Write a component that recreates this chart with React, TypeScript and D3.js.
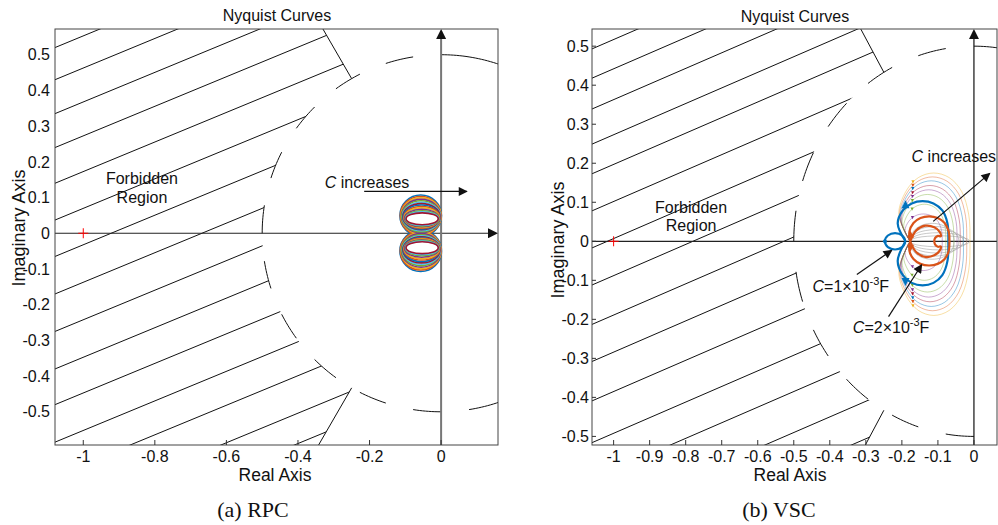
import React from 'react';
import * as d3 from 'd3';

const W = 998;
const H = 525;
const SANS = '"Liberation Sans", Arial, sans-serif';
const SERIF = '"Liberation Serif", "Times New Roman", serif';
const MATLAB = ['#0072BD', '#D95319', '#EDB120', '#7E2F8E', '#77AC30', '#4DBEEE', '#A2142F'];

// ---------- forbidden region (|Z|>0.5, phase within 120..240 deg) ----------
const regionRadius = 0.5;
const regionAngles = [120, 240];
const dashArcs: [number, number][] = [
  [63, 90], [99, 108], [117, 126], [135, 144], [153, 162], [171, 180],
  [189, 198], [207, 216], [225, 234], [243, 252], [261, 270], [279, 297],
];

// ---------- panel (a) RPC ----------
const aXDomain = [-1.079, 0.159];
const aYDomain = [-0.593, 0.572];
const aXTicks = [-1, -0.8, -0.6, -0.4, -0.2, 0];
const aXTickLabels = ['-1', '-0.8', '-0.6', '-0.4', '-0.2', '0'];
const aYTicks = [0.5, 0.4, 0.3, 0.2, 0.1, 0, -0.1, -0.2, -0.3, -0.4, -0.5];
const aYTickLabels = ['0.5', '0.4', '0.3', '0.2', '0.1', '0', '-0.1', '-0.2', '-0.3', '-0.4', '-0.5'];
const aHatchStarts = [0.52, 0.43, 0.335, 0.24, 0.14, 0.037, -0.065, -0.17, -0.275, -0.38, -0.48, -0.585, -0.68, -0.785, -0.87];
const aHatchSlope = 0.414;

// RPC Nyquist loops (upper lobe; lower lobe mirrored)
const rpcCx = [-0.057, -0.057, -0.056, -0.056, -0.056, -0.055, -0.055, -0.055, -0.054, -0.054, -0.054, -0.053, -0.053, -0.053];
const rpcRx = [0.058, 0.057, 0.056, 0.055, 0.054, 0.053, 0.052, 0.051, 0.05, 0.049, 0.048, 0.047, 0.046, 0.045];
const rpcTop = [0.107, 0.103, 0.099, 0.095, 0.091, 0.087, 0.083, 0.079, 0.075, 0.071, 0.067, 0.063, 0.06, 0.057];
const rpcBottom = [-0.008, -0.005, -0.002, 0.001, 0.004, 0.007, 0.01, 0.012, 0.014, 0.016, 0.018, 0.02, 0.022, 0.024];

// ---------- panel (b) VSC ----------
const bXDomain = [-1.06, 0.064];
const bYDomain = [-0.522, 0.544];
const bXTicks = [-1, -0.9, -0.8, -0.7, -0.6, -0.5, -0.4, -0.3, -0.2, -0.1, 0];
const bXTickLabels = ['-1', '-0.9', '-0.8', '-0.7', '-0.6', '-0.5', '-0.4', '-0.3', '-0.2', '-0.1', '0'];
const bYTicks = [0.5, 0.4, 0.3, 0.2, 0.1, 0, -0.1, -0.2, -0.3, -0.4, -0.5];
const bYTickLabels = ['0.5', '0.4', '0.3', '0.2', '0.1', '0', '-0.1', '-0.2', '-0.3', '-0.4', '-0.5'];
const bHatchStarts = [0.493, 0.418, 0.339, 0.249, 0.173, 0.078, -0.017, -0.112, -0.213, -0.308, -0.409, -0.516, -0.609, -0.714, -0.81];
const bHatchSlope = 0.4;

// thin curves (C increases)
const vscThinLeft = [-0.212, -0.21, -0.208, -0.206, -0.204, -0.202, -0.197, -0.193];
const vscThinRight = [-0.011, -0.02, -0.029, -0.038, -0.047, -0.056, -0.078, -0.088];
const vscThinTop = [0.175, 0.165, 0.155, 0.143, 0.132, 0.12, 0.095, 0.07];
const vscThinBot = [0.19, 0.178, 0.167, 0.155, 0.143, 0.13, 0.1, 0.075];
const vscThinColor = ['#EDB120', '#D95319', '#0072BD', '#A2142F', '#7E2F8E', '#77AC30', '#77AC30', '#7E2F8E'];
const vscCusp = -0.177;

// grey lens curves
const vscGrayRight = [-0.012, -0.02, -0.03, -0.042, -0.055];
const vscGrayTop = [0.014, 0.022, 0.03, 0.038, 0.046];

// thick C=1e-3 (blue)
const blueLoop = { xc: -0.19, xl: -0.214, xr: -0.071, top: 0.103, bot: 0.113 };
const blueSmall = { cx: -0.219, rx: 0.028, ry: 0.021 };
// thick C=2e-3 (orange)
const orangeLoop = { xc: -0.177, xl: -0.181, xr: -0.068, top: 0.064, bot: 0.062 };
const orangeInnerX = [-0.177, -0.16, -0.135, -0.11, -0.095, -0.092, -0.1, -0.108, -0.11, -0.108, -0.1, -0.092, -0.095, -0.11, -0.135, -0.16, -0.177];
const orangeInnerY = [0, 0.028, 0.04, 0.036, 0.024, 0.013, 0.014, 0.008, 0, -0.008, -0.014, -0.013, -0.024, -0.036, -0.04, -0.028, 0];

const ovalAngles = [165, 140, 115, 90, 65, 40, 15, 0];
function ovalPts(xc: number, xl: number, xr: number, top: number, bot: number, p: number): [number, number][] {
  const xm = (xl + xr) / 2;
  const a = (xr - xl) / 2;
  const up: [number, number][] = [[xc, 0]];
  ovalAngles.forEach((t) => {
    const r = (t * Math.PI) / 180;
    up.push([xm + a * Math.cos(r), top * Math.pow(Math.sin(r), p)]);
  });
  const lo = up.slice(0, -1).reverse().map(([px, py]) => [px, (-py * bot) / top] as [number, number]);
  return up.concat(lo);
}
function ovalAt(xl: number, xr: number, top: number, deg: number, p: number): [number, number] {
  const r = (deg * Math.PI) / 180;
  return [(xl + xr) / 2 + ((xr - xl) / 2) * Math.cos(r), top * Math.pow(Math.sin(r), p)];
}

const pol = (r: number, a: number): [number, number] => [r * Math.cos((a * Math.PI) / 180), r * Math.sin((a * Math.PI) / 180)];

type Scale = d3.ScaleLinear<number, number>;

function Panel(props: {
  id: string; box: { l: number; t: number; r: number; b: number };
  xDomain: number[]; yDomain: number[];
  xTicks: number[]; xLabels: string[]; yTicks: number[]; yLabels: string[];
  yTickMarks: boolean;
  hatchStarts: number[]; hatchSlope: number;
  titleX: number; titleY: number; xlabX: number; ylabX: number; ylabY: number;
  vAxisColor: string; vAxisWidth: number; hArrow: boolean;
  children: (x: Scale, y: Scale) => React.ReactNode;
}) {
  const { id, box } = props;
  const x = d3.scaleLinear().domain(props.xDomain).range([box.l, box.r]);
  const y = d3.scaleLinear().domain(props.yDomain).range([box.b, box.t]);
  const line = d3.line<[number, number]>().x((d) => x(d[0])).y((d) => y(d[1]));

  const regionPts: [number, number][] = [pol(regionRadius, regionAngles[0]), pol(4, regionAngles[0]), pol(4, 180), pol(4, regionAngles[1]), pol(regionRadius, regionAngles[1])];
  for (let a = regionAngles[1]; a >= regionAngles[0]; a -= 2) regionPts.push(pol(regionRadius, a));
  const regionD = line(regionPts) + 'Z';

  const x0 = props.xDomain[0];
  return (
    <g>
      <defs>
        <clipPath id={`plot-${id}`}>
          <rect x={box.l} y={box.t} width={box.r - box.l} height={box.b - box.t} />
        </clipPath>
        <clipPath id={`reg-${id}`}>
          <path d={regionD} />
        </clipPath>
      </defs>
      <g clipPath={`url(#plot-${id})`}>
        <g clipPath={`url(#reg-${id})`}>
          {props.hatchStarts.map((s, i) => (
            <line key={i} x1={x(x0)} y1={y(s)} x2={x(x0 + 2)} y2={y(s + props.hatchSlope * 2)} stroke="#111" strokeWidth={1} />
          ))}
        </g>
        {dashArcs.map(([a0, a1], i) => {
          const pts: [number, number][] = [];
          for (let a = a0; a <= a1; a += 1) pts.push(pol(regionRadius, a));
          return <path key={i} d={line(pts) || ''} fill="none" stroke="#111" strokeWidth={1} />;
        })}
        {regionAngles.map((a, i) => (
          <path key={'r' + i} d={line([pol(regionRadius, a), pol(4, a)]) || ''} stroke="#111" strokeWidth={1} />
        ))}
        {/* axes through origin */}
        <line x1={box.l} x2={props.hArrow ? box.r - 2 : box.r + 5} y1={y(0)} y2={y(0)} stroke="#222" strokeWidth={1.2} markerEnd={props.hArrow ? 'url(#axArrow)' : undefined} />
        <line x1={x(0)} x2={x(0)} y1={box.b} y2={box.t + 2} stroke={props.vAxisColor} strokeWidth={props.vAxisWidth} markerEnd="url(#axArrow)" />
        {/* critical point */}
        <path d={`M${x(-1) - 5},${y(0)}H${x(-1) + 5}M${x(-1)},${y(0) - 5}V${y(0) + 5}`} stroke="#ff0000" strokeWidth={1} />
        {props.children(x, y)}
      </g>
      {/* frame */}
      <rect x={box.l} y={box.t} width={box.r - box.l} height={box.b - box.t} fill="none" stroke="#444" strokeWidth={1} />
      {/* ticks */}
      {props.xTicks.map((t, i) => (
        <g key={'xt' + i}>
          <line x1={x(t)} x2={x(t)} y1={box.b} y2={box.b - 5} stroke="#333" />
          <text x={x(t)} y={box.b + 17} textAnchor="middle" fontSize={16} fontFamily={SANS} fill="#111">{props.xLabels[i]}</text>
        </g>
      ))}
      {props.yTicks.map((t, i) => (
        <g key={'yt' + i}>
          {props.yTickMarks && <line x1={box.l} x2={box.l + 4} y1={y(t)} y2={y(t)} stroke="#333" />}
          <text x={box.l - (props.yTickMarks ? 3 : 5)} y={y(t) + 5.7} textAnchor="end" fontSize={16} fontFamily={SANS} fill="#111">{props.yLabels[i]}</text>
        </g>
      ))}
      <text x={props.titleX} y={props.titleY} textAnchor="middle" fontSize={16} fontFamily={SANS} fill="#111">Nyquist Curves</text>
      <text x={props.xlabX} y={box.b + 36} textAnchor="middle" fontSize={17.5} fontFamily={SANS} fill="#111">Real Axis</text>
      <text transform={`translate(${props.ylabX},${props.ylabY}) rotate(-90)`} textAnchor="middle" fontSize={18} fontFamily={SANS} fill="#111">Imaginary Axis</text>
    </g>
  );
}

function Arrow({ x1, y1, x2, y2 }: { x1: number; y1: number; x2: number; y2: number }) {
  return <line x1={x1} y1={y1} x2={x2} y2={y2} stroke="#111" strokeWidth={1.2} markerEnd="url(#annArrow)" />;
}

export default function App() {
  const cat = d3.line<[number, number]>().curve(d3.curveCatmullRom.alpha(0.5));
  const tri = (px: number, py: number, up: boolean, s: number) =>
    up ? `M${px - s},${py + s}L${px + s},${py + s}L${px},${py - s}Z` : `M${px - s},${py - s}L${px + s},${py - s}L${px},${py + s}Z`;

  return (
    <svg width={W} height={H} style={{ position: 'absolute', left: 0, top: 0, background: '#fff' }}>
      <defs>
        <marker id="axArrow" viewBox="0 0 10 10" refX="8" refY="5" markerWidth="10" markerHeight="10" markerUnits="userSpaceOnUse" orient="auto">
          <path d="M0,0L10,5L0,10Z" fill="#111" />
        </marker>
        <marker id="annArrow" viewBox="0 0 10 10" refX="9" refY="5" markerWidth="11" markerHeight="9" markerUnits="userSpaceOnUse" orient="auto">
          <path d="M0,0L10,5L0,10Z" fill="#111" />
        </marker>
      </defs>
      <rect x={0} y={0} width={W} height={H} fill="#fff" />

      <Panel id="a" box={{ l: 55, t: 29, r: 498, b: 445 }} xDomain={aXDomain} yDomain={aYDomain}
        xTicks={aXTicks} xLabels={aXTickLabels} yTicks={aYTicks} yLabels={aYTickLabels} yTickMarks={false}
        hatchStarts={aHatchStarts} hatchSlope={aHatchSlope} titleX={277} titleY={21} xlabX={275} ylabX={25} ylabY={228}
        vAxisColor="#777" vAxisWidth={2} hArrow={true}>
        {(x, y) => (
          <g>
            {rpcCx.map((cx, i) => {
              const cy = (rpcTop[i] + rpcBottom[i]) / 2;
              const ry = (rpcTop[i] - rpcBottom[i]) / 2;
              const col = MATLAB[i % MATLAB.length];
              const sx = x(cx + rpcRx[i]) - x(cx);
              const sy = y(0) - y(ry);
              return (
                <g key={i}>
                  <ellipse cx={x(cx)} cy={y(cy)} rx={sx} ry={sy} fill="none" stroke={col} strokeWidth={1.6} />
                  <ellipse cx={x(cx)} cy={y(-cy)} rx={sx} ry={sy} fill="none" stroke={col} strokeWidth={1.6} />
                </g>
              );
            })}
            <text x={x(-0.325)} y={y(0.127)} fontSize={16} fontFamily={SANS} fill="#111"><tspan fontStyle="italic">C</tspan> increases</text>
            <Arrow x1={x(-0.215)} y1={y(0.117)} x2={x(0.072)} y2={y(0.117)} />
            <text x={x(-0.836)} y={y(0.137)} textAnchor="middle" fontSize={16} fontFamily={SANS} fill="#111">Forbidden</text>
            <text x={x(-0.836)} y={y(0.0835)} textAnchor="middle" fontSize={16} fontFamily={SANS} fill="#111">Region</text>
          </g>
        )}
      </Panel>

      <Panel id="b" box={{ l: 592, t: 29, r: 997, b: 445 }} xDomain={bXDomain} yDomain={bYDomain}
        xTicks={bXTicks} xLabels={bXTickLabels} yTicks={bYTicks} yLabels={bYTickLabels} yTickMarks={true}
        hatchStarts={bHatchStarts} hatchSlope={bHatchSlope} titleX={795} titleY={22} xlabX={790} ylabX={564} ylabY={240}
        vAxisColor="#111" vAxisWidth={1.2} hArrow={false}>
        {(x, y) => {
          const toPx = (pts: [number, number][]) => pts.map(([a, b]) => [x(a), y(b)] as [number, number]);
          return (
            <g>
              {vscThinLeft.map((xl, i) => {
                const pts = ovalPts(vscCusp, xl, vscThinRight[i], vscThinTop[i], vscThinBot[i], 0.7);
                const m = ovalAt(xl, vscThinRight[i], vscThinTop[i], 125, 0.7);
                const mb = ovalAt(xl, vscThinRight[i], vscThinBot[i], 125, 0.7);
                return (
                  <g key={i}>
                    <path d={cat(toPx(pts)) || ''} fill="none" stroke={vscThinColor[i]} strokeOpacity={0.45} strokeWidth={0.9} />
                    <path d={tri(x(m[0]), y(m[1]), false, 1.6)} fill={vscThinColor[i]} />
                    <path d={tri(x(mb[0]), y(-mb[1]), false, 1.6)} fill={vscThinColor[i]} />
                  </g>
                );
              })}
              {vscGrayRight.map((xr, i) => (
                <path key={'g' + i} d={cat(toPx(ovalPts(vscCusp, vscCusp, xr, vscGrayTop[i], vscGrayTop[i], 0.9))) || ''} fill="none" stroke="#999" strokeOpacity={0.6} strokeWidth={0.9} />
              ))}
              {/* C = 1e-3 F */}
              <path d={cat(toPx(ovalPts(blueLoop.xc, blueLoop.xl, blueLoop.xr, blueLoop.top, blueLoop.bot, 0.6))) || ''} fill="none" stroke="#0072BD" strokeWidth={2.2} />
              <ellipse cx={x(blueSmall.cx)} cy={y(0)} rx={x(blueSmall.cx + blueSmall.rx) - x(blueSmall.cx)} ry={y(0) - y(blueSmall.ry)} fill="none" stroke="#0072BD" strokeWidth={2.2} />
              <circle cx={x(blueSmall.cx - blueSmall.rx)} cy={y(0)} r={2} fill="#0072BD" />
              <path d={tri(x(-0.19), y(0.095), true, 4)} fill="#0072BD" />
              <path d={tri(x(-0.19), y(-0.104), false, 4)} fill="#0072BD" />
              {/* C = 2e-3 F */}
              <path d={cat(toPx(ovalPts(orangeLoop.xc, orangeLoop.xl, orangeLoop.xr, orangeLoop.top, orangeLoop.bot, 0.7))) || ''} fill="none" stroke="#D95319" strokeWidth={2.2} />
              <path d={cat(toPx(orangeInnerX.map((v, i) => [v, orangeInnerY[i]] as [number, number]))) || ''} fill="none" stroke="#D95319" strokeWidth={2.2} />
              <path d={tri(x(-0.176), y(0.018), true, 3.5)} fill="#D95319" />
              <path d={tri(x(-0.176), y(-0.018), false, 3.5)} fill="#D95319" />

              <text x={x(-0.173)} y={y(0.2025)} fontSize={16} fontFamily={SANS} fill="#111"><tspan fontStyle="italic">C</tspan> increases</text>
              <Arrow x1={x(-0.113)} y1={y(0.051)} x2={x(0.044)} y2={y(0.174)} />
              <text x={x(-0.785)} y={y(0.073)} textAnchor="middle" fontSize={16} fontFamily={SANS} fill="#111">Forbidden</text>
              <text x={x(-0.785)} y={y(0.0256)} textAnchor="middle" fontSize={16} fontFamily={SANS} fill="#111">Region</text>
              <text x={x(-0.448)} y={y(-0.129)} fontSize={16} fontFamily={SANS} fill="#111">
                <tspan fontStyle="italic">C</tspan>=1×10<tspan dy={-7} fontSize={11}>-3</tspan><tspan dy={7}>F</tspan>
              </text>
              <Arrow x1={x(-0.325)} y1={y(-0.085)} x2={x(-0.228)} y2={y(-0.023)} />
              <text x={x(-0.336)} y={y(-0.236)} fontSize={16} fontFamily={SANS} fill="#111">
                <tspan fontStyle="italic">C</tspan>=2×10<tspan dy={-7} fontSize={11}>-3</tspan><tspan dy={7}>F</tspan>
              </text>
              <Arrow x1={x(-0.237)} y1={y(-0.193)} x2={x(-0.145)} y2={y(-0.06)} />
            </g>
          );
        }}
      </Panel>

      <text x={253} y={517} textAnchor="middle" fontSize={22} fontFamily={SERIF} fill="#111">(a) RPC</text>
      <text x={779} y={517} textAnchor="middle" fontSize={22} fontFamily={SERIF} fill="#111">(b) VSC</text>
    </svg>
  );
}
